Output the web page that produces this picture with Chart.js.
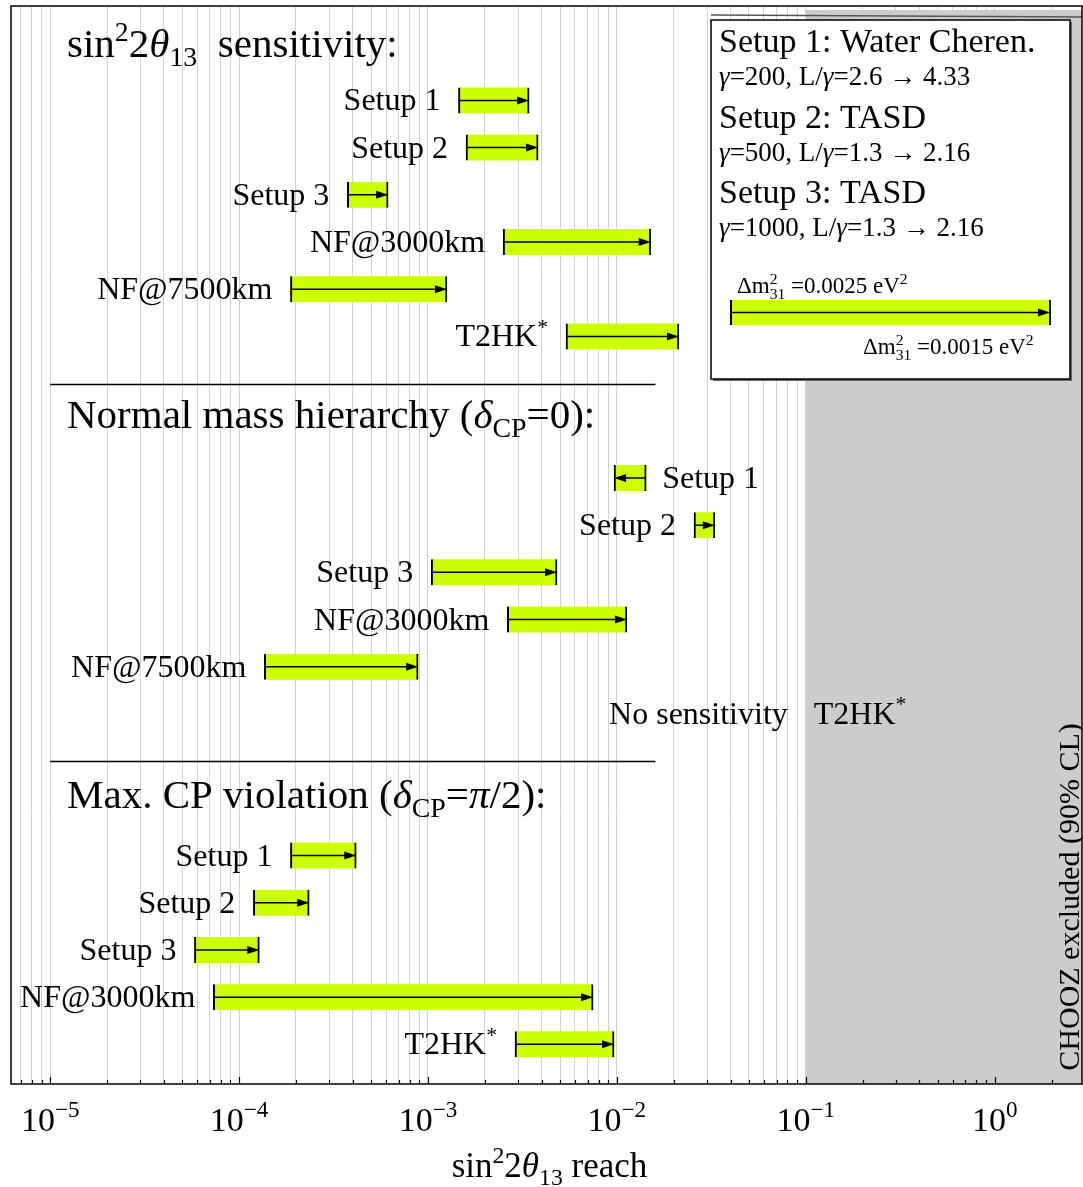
<!DOCTYPE html>
<html>
<head>
<meta charset="utf-8">
<script src="https://cdn.jsdelivr.net/npm/chart.js@4.4.1/dist/chart.umd.min.js"></script>
<style>
  html, body { margin: 0; padding: 0; background: #fff; }
</style>
</head>
<body>
<canvas id="reach" width="1083" height="1187"></canvas>
<script>
// sin^2 2theta13 reach per setup, one row per bar (slot = row position on the y axis)
const rowLabels = [
  'Setup 1', 'Setup 2', 'Setup 3', 'NF@3000km', 'NF@7500km', 'T2HK*',
  'Setup 1', 'Setup 2', 'Setup 3', 'NF@3000km', 'NF@7500km',
  'Setup 1', 'Setup 2', 'Setup 3', 'NF@3000km', 'T2HK*'
];
const rowSlots = [2, 3, 4, 5, 6, 7, 10, 11, 12, 13, 14, 18, 19, 20, 21, 22];
// reach for dm31^2 = 0.0025 eV^2 (arrow tail) and 0.0015 eV^2 (arrow head)
const reachAt25 = [1.45e-3, 1.59e-3, 3.74e-4, 2.50e-3, 1.87e-4, 5.38e-3,
                   1.43e-2, 2.56e-2, 1.04e-3, 2.63e-3, 1.36e-4,
                   1.87e-4, 1.19e-4, 5.80e-5, 7.30e-5, 2.89e-3];
const reachAt15 = [3.43e-3, 3.83e-3, 6.15e-4, 1.51e-2, 1.26e-3, 2.13e-2,
                   9.66e-3, 3.30e-2, 4.82e-3, 1.13e-2, 8.87e-4,
                   4.17e-4, 2.35e-4, 1.28e-4, 7.48e-3, 9.66e-3];
const labelOnRight = [false, false, false, false, false, false,
                      true, false, false, false, false,
                      false, false, false, false, false];

const titleSlots = [1.08, 8.94, 17.0];
const separatorSlots = [8, 16];
const separatorRange = [1e-5, 0.016];
const noSensitivitySlot = 15;
const choozLimit = 0.1;
const xMin = 6.2e-6, xMax = 2.9;
const decades = [-5, -4, -3, -2, -1, 0];

const FONT = '"Liberation Serif", "Times New Roman", serif';
const LIME = '#ccff00';

function fontOf(size, italic) {
  return (italic ? 'italic ' : '') + size + 'px ' + FONT;
}

function partWidth(ctx, p, size) {
  const small = size * 0.68;
  if (p.stack) {
    ctx.font = fontOf(small);
    return Math.max(...p.stack.map(s => ctx.measureText(s).width));
  }
  ctx.font = fontOf(p.v ? small : size, p.i);
  return ctx.measureText(p.t).width;
}

// text with italics, superscripts (v:1), subscripts (v:-1) and stacked sup/sub
function drawRich(ctx, parts, x, y, size, align) {
  const list = parts.map(p => typeof p === 'string' ? { t: p } : p);
  const widths = list.map(p => partWidth(ctx, p, size));
  const total = widths.reduce((a, b) => a + b, 0);
  let cx = align === 'right' ? x - total : align === 'center' ? x - total / 2 : x;
  const small = size * 0.68;
  ctx.textAlign = 'left';
  ctx.textBaseline = 'alphabetic';
  ctx.fillStyle = '#000';
  list.forEach((p, k) => {
    if (p.stack) {
      ctx.font = fontOf(small);
      ctx.fillText(p.stack[0], cx, y - size * 0.4);
      ctx.fillText(p.stack[1], cx, y + size * 0.25);
    } else {
      ctx.font = fontOf(p.v ? small : size, p.i);
      const dy = p.v === 1 ? -size * 0.4 : p.v === -1 ? size * 0.22 : 0;
      ctx.fillText(p.t, cx, y + dy);
    }
    cx += widths[k];
  });
  return total;
}

function labelParts(s) {
  return s.endsWith('*') ? [s.slice(0, -1), { t: '*', v: 1 }] : [s];
}

const sin22theta = ['sin', { t: '2', v: 1 }, '2', { t: 'θ', i: true }, { t: '13', v: -1 }];
const sectionTitles = [
  [...sin22theta, '  sensitivity:'],
  ['Normal mass hierarchy (', { t: 'δ', i: true }, { t: 'CP', v: -1 }, '=0):'],
  ['Max. CP violation (', { t: 'δ', i: true }, { t: 'CP', v: -1 }, '=', { t: 'π', i: true }, '/2):']
];

function drawArrow(ctx, x0, x1, y) {
  const dir = Math.sign(x1 - x0) || 1;
  ctx.strokeStyle = '#000';
  ctx.fillStyle = '#000';
  ctx.lineWidth = 1.5;
  ctx.beginPath();
  ctx.moveTo(x0, y);
  ctx.lineTo(x1 - dir * 6, y);
  ctx.stroke();
  ctx.beginPath();
  ctx.moveTo(x1, y);
  ctx.lineTo(x1 - dir * 12, y - 4);
  ctx.lineTo(x1 - dir * 12, y + 4);
  ctx.closePath();
  ctx.fill();
}

const reachDecor = {
  id: 'reachDecor',
  beforeDatasetsDraw(chart) {
    const { ctx, chartArea: a, scales: { x } } = chart;
    const gx = x.getPixelForValue(choozLimit);
    ctx.save();
    ctx.fillStyle = '#cccccc';
    ctx.fillRect(gx, a.top + 4, a.right - gx, a.bottom - a.top - 4);
    ctx.restore();
  },
  afterDatasetsDraw(chart) {
    const { ctx, chartArea: a, scales: { x, y } } = chart;
    ctx.save();

    // arrows and row labels
    rowSlots.forEach((slot, i) => {
      const x0 = x.getPixelForValue(reachAt25[i]);
      const x1 = x.getPixelForValue(reachAt15[i]);
      const py = y.getPixelForValue(slot);
      drawArrow(ctx, x0, x1, py);
      if (labelOnRight[i]) {
        drawRich(ctx, labelParts(rowLabels[i]), Math.max(x0, x1) + 16, py + 10, 32, 'left');
      } else {
        drawRich(ctx, labelParts(rowLabels[i]), Math.min(x0, x1) - 18, py + 10, 32, 'right');
      }
    });

    const gx = x.getPixelForValue(choozLimit);
    const ny = y.getPixelForValue(noSensitivitySlot) + 10;
    drawRich(ctx, ['No sensitivity'], gx - 18, ny, 32, 'right');
    drawRich(ctx, labelParts('T2HK*'), gx + 8, ny, 32, 'left');

    // section titles and separators
    sectionTitles.forEach((parts, k) => {
      drawRich(ctx, parts, 67, y.getPixelForValue(titleSlots[k]), 41, 'left');
    });
    ctx.strokeStyle = '#000';
    ctx.lineWidth = 1.3;
    separatorSlots.forEach(slot => {
      const sy = Math.round(y.getPixelForValue(slot)) + 0.5;
      ctx.beginPath();
      ctx.moveTo(x.getPixelForValue(separatorRange[0]), sy);
      ctx.lineTo(x.getPixelForValue(separatorRange[1]), sy);
      ctx.stroke();
    });

    // legend box
    const bx = 711, by = 20, bw = 359, bh = 359;
    ctx.strokeStyle = '#555';
    ctx.lineWidth = 1.5;
    ctx.beginPath();
    ctx.moveTo(bx, by - 5);
    ctx.lineTo(a.right, by - 3);
    ctx.stroke();
    ctx.fillStyle = '#666';
    ctx.fillRect(bx + 2, by + 2, bw, bh);
    ctx.fillStyle = '#fff';
    ctx.fillRect(bx, by, bw, bh);
    ctx.strokeStyle = '#000';
    ctx.lineWidth = 1.5;
    ctx.strokeRect(bx, by, bw, bh);

    const lx = 719;
    drawRich(ctx, ['Setup 1: Water Cheren.'], lx, 52, 34, 'left');
    drawRich(ctx, [{ t: 'γ', i: true }, '=200, L/', { t: 'γ', i: true }, '=2.6 → 4.33'], lx, 85, 27, 'left');
    drawRich(ctx, ['Setup 2: TASD'], lx, 128, 34, 'left');
    drawRich(ctx, [{ t: 'γ', i: true }, '=500, L/', { t: 'γ', i: true }, '=1.3 → 2.16'], lx, 161, 27, 'left');
    drawRich(ctx, ['Setup 3: TASD'], lx, 203, 34, 'left');
    drawRich(ctx, [{ t: 'γ', i: true }, '=1000, L/', { t: 'γ', i: true }, '=1.3 → 2.16'], lx, 236, 27, 'left');
    drawRich(ctx, ['Δm', { stack: ['2', '31'] }, ' =0.0025 eV', { t: '2', v: 1 }], 737, 293, 23, 'left');
    drawRich(ctx, ['Δm', { stack: ['2', '31'] }, ' =0.0015 eV', { t: '2', v: 1 }], 863, 354, 23, 'left');

    ctx.fillStyle = LIME;
    ctx.fillRect(730, 300, 321, 25);
    ctx.fillStyle = '#000';
    ctx.fillRect(730, 300, 2, 25);
    ctx.fillRect(1049, 300, 2, 25);
    drawArrow(ctx, 731, 1050, 312.5);

    ctx.restore();
  },
  afterDraw(chart) {
    const { ctx, chartArea: a, scales: { x } } = chart;
    ctx.save();

    // tick marks along the bottom edge
    ctx.strokeStyle = '#000';
    ctx.lineWidth = 1.2;
    x.ticks.forEach(t => {
      const px = Math.round(x.getPixelForValue(t.value)) + 0.5;
      const major = Number.isInteger(Math.round(Math.log10(t.value) * 1000) / 1000);
      ctx.beginPath();
      ctx.moveTo(px, a.bottom);
      ctx.lineTo(px, a.bottom - (major ? 7 : 4));
      ctx.stroke();
    });

    // frame
    ctx.lineWidth = 1.5;
    ctx.strokeRect(a.left, a.top, a.right - a.left, a.bottom - a.top);

    // decade labels
    decades.forEach(d => {
      const px = x.getPixelForValue(Math.pow(10, d));
      drawRich(ctx, ['10', { t: d < 0 ? '−' + (-d) : String(d), v: 1 }], px, 1131, 34, 'center');
    });

    // axis title
    drawRich(ctx, [...sin22theta, ' reach'], (a.left + a.right) / 2 + 3, 1177, 35, 'center');

    // excluded region label
    ctx.translate(1079, 897);
    ctx.rotate(-Math.PI / 2);
    drawRich(ctx, ['CHOOZ excluded (90% CL)'], 0, 0, 30, 'center');
    ctx.restore();
  }
};

new Chart(document.getElementById('reach'), {
  type: 'bar',
  data: {
    datasets: [{
      data: rowSlots.map((slot, i) => ({ y: slot, x: [reachAt25[i], reachAt15[i]] })),
      backgroundColor: LIME,
      borderColor: '#000',
      borderWidth: { left: 2, right: 2, top: 0, bottom: 0 },
      borderSkipped: false,
      barThickness: 26
    }]
  },
  options: {
    indexAxis: 'y',
    responsive: false,
    animation: false,
    layout: { padding: { left: 11, right: 1, top: 6, bottom: 103 } },
    scales: {
      x: {
        type: 'logarithmic',
        min: xMin,
        max: xMax,
        afterBuildTicks(scale) {
          const ticks = [];
          for (let e = -6; e <= 0; e++) {
            for (let m = 1; m <= 9; m++) {
              const v = m * Math.pow(10, e);
              if (v >= xMin && v <= xMax) ticks.push({ value: v });
            }
          }
          scale.ticks = ticks;
        },
        ticks: { display: false },
        grid: { color: '#d2d2d2', lineWidth: 1, drawTicks: false },
        border: { display: false }
      },
      y: {
        type: 'linear',
        reverse: true,
        offset: false,
        min: 0,
        max: 22.84,
        display: false
      }
    },
    plugins: {
      legend: { display: false },
      tooltip: { enabled: false }
    }
  },
  plugins: [reachDecor]
});
</script>
</body>
</html>
